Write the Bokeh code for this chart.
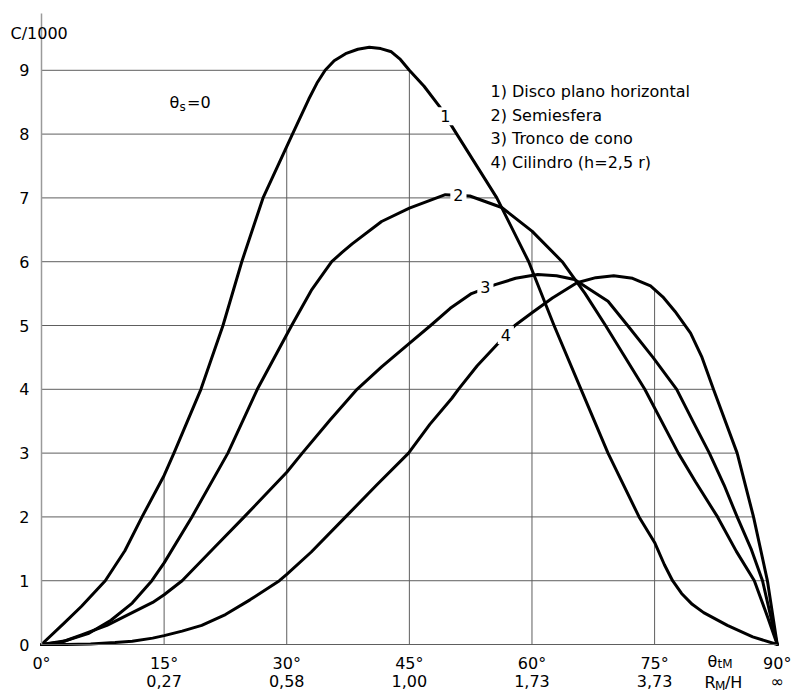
import numpy as np
from bokeh.plotting import figure
from bokeh.models import FixedTicker, Label, Range1d
from bokeh.embed import file_html
from bokeh.resources import INLINE

# ---------------- data ----------------
# Curve 1: Disco plano horizontal
deg1 = [0, 2.8, 4.9, 7.8, 10.2, 12.3, 15, 16.2, 19.5, 22.2, 24.5, 27.1, 30.7, 32.7,
        33.7, 34.7, 35.8, 37.2, 38.7, 40.1, 41.5, 42.8, 43.9, 45, 46.8, 48.7, 50.8,
        55.7, 59.6, 62.7, 66, 69.3, 73.1, 75, 76.2, 77.2, 78.3, 79.6, 81, 83.9, 87, 90]
c1 = [0, 0.34, 0.6, 1.0, 1.47, 2.0, 2.65, 3.0, 4.0, 5.0, 6.0, 7.0, 8.0, 8.55,
      8.8, 9.0, 9.15, 9.26, 9.33, 9.36, 9.34, 9.29, 9.17, 9.0, 8.75, 8.43, 8.0,
      7.0, 6.0, 5.0, 4.0, 3.0, 2.0, 1.6, 1.25, 1.0, 0.8, 0.63, 0.5, 0.3, 0.12, 0]

# Curve 2: Semiesfera
deg2 = [0, 3, 5.7, 8.5, 11.1, 13.5, 15, 18.4, 22.8, 26.4, 30.6, 33, 35.5,
        36.8, 38, 41.6, 45, 49.4, 52.4, 56.3, 60, 63.7, 66.5, 69, 73.8, 77.9, 80,
        82.7, 85, 87.2, 88.8, 90]
c2 = [0, 0.06, 0.17, 0.38, 0.65, 1.0, 1.28, 2.0, 3.0, 4.0, 5.0, 5.55, 6.0,
      6.15, 6.28, 6.63, 6.84, 7.05, 7.03, 6.85, 6.48, 6.0, 5.5, 5.0, 4.0, 3.0,
      2.55, 2.0, 1.46, 1.0, 0.44, 0]

# Curve 3: Tronco de cono
deg3 = [0, 2.5, 4.9, 8, 11.1, 13.6, 15, 17.2, 21, 24.8, 30, 31.9, 35.3, 38.6, 41.6,
        45, 47.6, 50, 52.6, 55.5, 58, 60.7, 63, 65.2, 69.3, 71.7, 74.8, 77.7, 79.8,
        81.7, 83.5, 85.1, 86.8, 88.2, 90]
c3 = [0, 0.04, 0.15, 0.3, 0.5, 0.66, 0.78, 1.0, 1.5, 2.0, 2.7, 3.0, 3.52, 4.0,
      4.35, 4.72, 5.0, 5.27, 5.5, 5.64, 5.74, 5.8, 5.78, 5.72, 5.38, 5.0, 4.5,
      4.0, 3.47, 3.0, 2.5, 2.0, 1.5, 1.0, 0]

# Curve 4: Cilindro (h=2,5 r)
deg4 = [0, 3, 6, 9, 11.1, 13.6, 15, 17.2, 19.6, 22.5, 25.5, 29.1, 30, 33, 37.2, 41,
        44.9, 47.5, 50.2, 51, 53.3, 55.7, 57.9, 60, 62.5, 65.5, 67.8, 70, 72.3,
        74.5, 76, 77.5, 79.4, 80.8, 82.2, 85.1, 87.1, 88.8, 90]
c4 = [0, 0.0, 0.01, 0.03, 0.05, 0.1, 0.14, 0.21, 0.3, 0.47, 0.7, 1.0, 1.1, 1.45,
      2.0, 2.5, 3.0, 3.45, 3.86, 4.0, 4.37, 4.7, 5.0, 5.2, 5.43, 5.67, 5.75, 5.78,
      5.74, 5.62, 5.45, 5.22, 4.88, 4.5, 4.0, 3.0, 2.0, 1.0, 0]

x_ticks = [0, 15, 30, 45, 60, 75, 90]
x_tick_labels = ["0\u00b0", "15\u00b0\n0,27", "30\u00b0\n0,58", "45\u00b0\n1,00",
                 "60\u00b0\n1,73", "75\u00b0\n3,73", "90\u00b0\n\u221e"]
y_ticks = [0, 1, 2, 3, 4, 5, 6, 7, 8, 9]
legend_lines = ["1) Disco plano horizontal", "2) Semiesfera",
                "3) Tronco de cono", "4) Cilindro (h=2,5 r)"]
curve_tags = ["1", "2", "3", "4"]
tag_deg = [49.4, 51.0, 54.3, 56.8]
tag_val = [8.28, 7.05, 5.6, 4.85]

curves = [(deg1, c1), (deg2, c2), (deg3, c3), (deg4, c4)]

FONT = "DejaVu Sans"
GRID = "#5e5e5e"

# frame covers the whole canvas; axes are pinned at x=0 / y=0
p = figure(width=797, height=695, output_backend="svg", toolbar_location=None,
           x_range=Range1d(-5.015, 92.48), y_range=Range1d(-0.799, 10.094),
           min_border=0)
p.outline_line_color = None
p.xgrid.visible = False
p.ygrid.visible = False
p.background_fill_color = "white"
p.border_fill_color = "white"

p.xaxis.fixed_location = 0
p.yaxis.fixed_location = 0
p.xaxis.bounds = (0, 90)
p.yaxis.bounds = (0, 9.89)
p.xaxis.ticker = FixedTicker(ticks=x_ticks)
p.xaxis.major_label_overrides = {t: l for t, l in zip(x_ticks, x_tick_labels)}
p.yaxis.ticker = FixedTicker(ticks=y_ticks)
for ax in (p.xaxis, p.yaxis):
    ax.major_tick_line_color = None
    ax.minor_tick_line_color = None
    ax.major_label_text_font = FONT
    ax.major_label_text_font_size = "16px"
    ax.major_label_text_color = "black"
    ax.major_label_standoff = 6
p.xaxis.major_label_standoff = 3
p.xaxis.major_label_text_line_height = 0.98
p.xaxis.axis_line_color = GRID
p.yaxis.axis_line_color = "#9a9a9a"
p.yaxis.axis_line_width = 1.5

# partial grid lines (only under / left of the curve envelope)
xs = np.linspace(0, 90, 1801)
env = np.max([np.interp(xs, d, c) for d, c in curves], axis=0)
vgrid_x = x_ticks[1:-1]
vgrid_top = [float(np.interp(x, xs, env)) for x in vgrid_x]
hgrid_y = y_ticks[1:]
hgrid_end = [float(xs[env >= L].max()) for L in hgrid_y]
p.segment(x0=vgrid_x, y0=[0] * len(vgrid_x), x1=vgrid_x, y1=vgrid_top,
          line_color=GRID, line_width=1)
p.segment(x0=[0] * len(hgrid_y), y0=hgrid_y, x1=hgrid_end, y1=hgrid_y,
          line_color=GRID, line_width=1)

# curves
for d, c in curves:
    p.line(d, c, line_color="black", line_width=3, line_join="round", line_cap="round")

# inline curve labels (white box breaks the curve)
for t, x, y in zip(curve_tags, tag_deg, tag_val):
    lab = Label(x=x, y=y, text=t, text_font=FONT, text_font_size="16px",
                text_align="center", text_baseline="middle", text_color="black",
                background_fill_color="white")
    try:
        lab.padding = 3
    except Exception:
        pass
    p.add_layout(lab)

def txt(x, y, s, size="16px", baseline="alphabetic", align="left"):
    p.add_layout(Label(x=x, y=y, text=s, text_font=FONT, text_font_size=size,
                       text_align=align, text_baseline=baseline, text_color="black"))

# axis title
txt(-3.79, 9.58, "C/1000", baseline="middle")

# theta_s = 0
txt(15.66, 8.495, "\u03b8")
txt(16.88, 8.42, "s", size="12px")
txt(17.8, 8.495, "=0")

# legend block
for i, s in enumerate(legend_lines):
    txt(54.92, [8.673, 8.292, 7.926, 7.560][i], s, baseline="middle")

# axis variable names between 75 and 90 degrees
txt(81.47, -0.26, "\u03b8")
txt(82.7, -0.30, "tM", size="12px")
txt(81.1, -0.6, "R")
txt(82.4, -0.645, "M", size="12px")
txt(83.6, -0.6, "/H")

open("out.html", "w").write(file_html(p, INLINE))
